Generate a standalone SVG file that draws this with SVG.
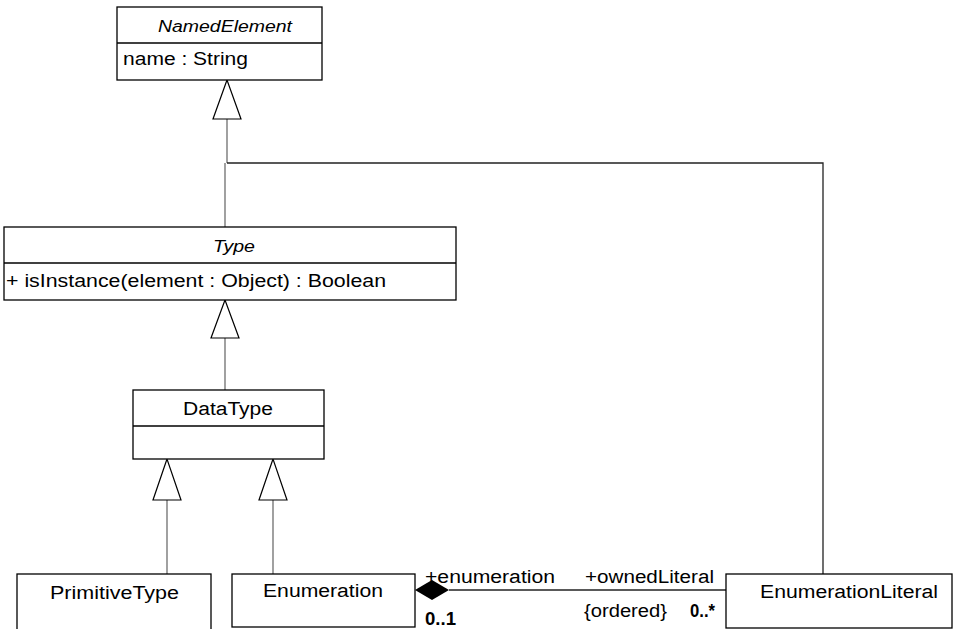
<svg xmlns="http://www.w3.org/2000/svg" width="963" height="629" viewBox="0 0 963 629">
<style>
.box{fill:#fff;stroke:#000;stroke-width:1.3}
.div{stroke:#000;stroke-width:1.3}
.t{font-family:"Liberation Sans",Arial,sans-serif;font-size:18px;fill:#000}
.i{font-style:italic;font-size:16px}
.a{font-size:17.5px}
.con{fill:none;stroke:#6e6e6e;stroke-width:1.3}
.conk{fill:none;stroke:#222;stroke-width:1.3}
.tri{fill:#fff;stroke:#000;stroke-width:1.2}
</style>
<rect width="963" height="629" fill="#fff"/>
<g id="connectors">
  <polyline class="con" points="227,119 227,163"/>
  <polyline class="conk" points="227,163 823,163 823,574"/>
  <polyline class="con" points="225,163 225,227"/>
  <polygon class="tri" points="227,80 213,119 241,119"/>
  <polyline class="con" points="225,338 225,390"/>
  <polygon class="tri" points="225,300 211,338 239,338"/>
  <polyline class="con" points="167,500 167,574"/>
  <polygon class="tri" points="167,459 153,500 181,500"/>
  <polyline class="con" points="273,500 273,574"/>
  <polygon class="tri" points="273,459 259,500 287,500"/>
  <line class="conk" x1="449" y1="590" x2="726" y2="590"/>
  <polygon points="415,590 432,580 449,590 432,600" fill="#000"/>
  <text class="t" x="425" y="583" textLength="130" lengthAdjust="spacingAndGlyphs">+enumeration</text>
  <text class="t" x="585" y="583" textLength="129" lengthAdjust="spacingAndGlyphs">+ownedLiteral</text>
  <text class="t" x="425" y="625" font-weight="bold" textLength="31" lengthAdjust="spacingAndGlyphs">0..1</text>
  <text class="t" x="584" y="617" textLength="83" lengthAdjust="spacingAndGlyphs">{ordered}</text>
  <text class="t" x="690" y="617" font-weight="bold" textLength="25" lengthAdjust="spacingAndGlyphs">0..*</text>
</g>
<g id="NamedElement">
  <rect class="box" x="117" y="7" width="205" height="73"/>
  <line class="div" x1="117" y1="43" x2="322" y2="43"/>
  <text class="t i" x="158" y="32" textLength="134" lengthAdjust="spacingAndGlyphs">NamedElement</text>
  <text class="t a" x="123" y="65" textLength="125" lengthAdjust="spacingAndGlyphs">name : String</text>
</g>
<g id="Type">
  <rect class="box" x="4" y="227" width="452" height="73"/>
  <line class="div" x1="4" y1="263" x2="456" y2="263"/>
  <text class="t i" x="213" y="252" textLength="42" lengthAdjust="spacingAndGlyphs">Type</text>
  <text class="t a" x="6" y="287" textLength="380" lengthAdjust="spacingAndGlyphs">+ isInstance(element : Object) : Boolean</text>
</g>
<g id="DataType">
  <rect class="box" x="133" y="390" width="191" height="69"/>
  <line class="div" x1="133" y1="426" x2="324" y2="426"/>
  <text class="t" x="183" y="415" textLength="90" lengthAdjust="spacingAndGlyphs">DataType</text>
</g>
<g id="PrimitiveType">
  <rect class="box" x="17" y="574" width="194" height="70"/>
  <text class="t" x="50" y="599" textLength="129" lengthAdjust="spacingAndGlyphs">PrimitiveType</text>
</g>
<g id="Enumeration">
  <rect class="box" x="232" y="574" width="183" height="53"/>
  <text class="t" x="263" y="597" textLength="120" lengthAdjust="spacingAndGlyphs">Enumeration</text>
</g>
<g id="EnumerationLiteral">
  <rect class="box" x="726" y="574" width="226" height="54"/>
  <text class="t" x="760" y="598" textLength="178" lengthAdjust="spacingAndGlyphs">EnumerationLiteral</text>
</g>
</svg>
